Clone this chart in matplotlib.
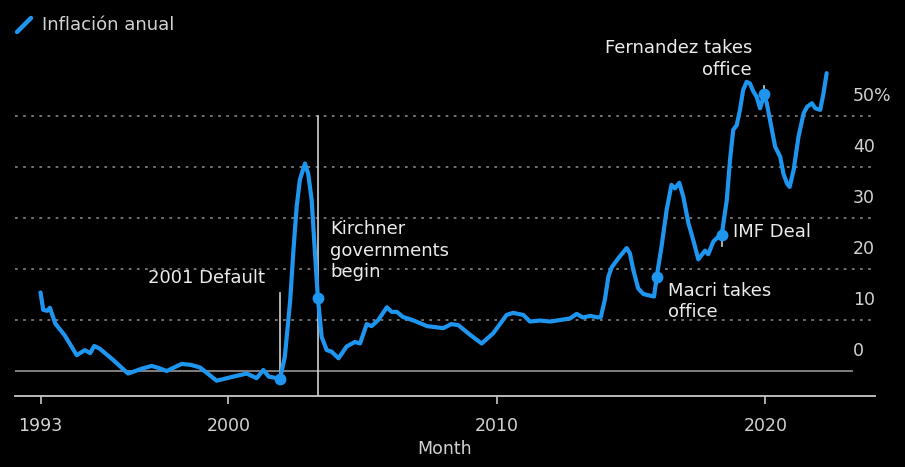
import matplotlib
matplotlib.use("Agg")
import matplotlib.pyplot as plt
from matplotlib.lines import Line2D
import matplotlib.transforms as mtransforms

# ---- data (decimal year, annual inflation %) ----
dates = [1993.0, 1993.1, 1993.25, 1993.35, 1993.55, 1993.9, 1994.35, 1994.65, 1994.85, 1995.0,
         1995.2, 1995.7, 1996.26, 1996.8, 1997.14, 1997.4, 1997.7, 1998.26, 1998.6, 1998.94,
         1999.56, 2000.18, 2000.68, 2001.05, 2001.3, 2001.5, 2001.92, 2002.1, 2002.3, 2002.42,
         2002.54, 2002.66, 2002.85, 2002.97, 2003.1, 2003.2, 2003.33, 2003.47, 2003.66, 2003.84,
         2004.1, 2004.4, 2004.71, 2004.9, 2005.15, 2005.33, 2005.58, 2005.9, 2006.08, 2006.27,
         2006.5, 2006.9, 2007.4, 2008.0, 2008.3, 2008.56, 2009.0, 2009.43, 2009.86, 2010.36,
         2010.6, 2010.98, 2011.23, 2011.6, 2011.98, 2012.35, 2012.72, 2012.97, 2013.2, 2013.47,
         2013.77, 2013.87, 2014.02, 2014.15, 2014.27, 2014.52, 2014.83, 2014.95, 2015.08, 2015.26,
         2015.45, 2015.76, 2015.85, 2015.95, 2016.13, 2016.32, 2016.5, 2016.63, 2016.79, 2016.94,
         2017.13, 2017.31, 2017.5, 2017.75, 2017.87, 2018.06, 2018.24, 2018.37, 2018.56, 2018.68,
         2018.8, 2018.93, 2019.05, 2019.17, 2019.3, 2019.42, 2019.55, 2019.67, 2019.8, 2019.96,
         2020.05, 2020.17, 2020.36, 2020.55, 2020.67, 2020.8, 2020.9, 2021.05, 2021.23, 2021.42,
         2021.55, 2021.73, 2021.86, 2022.04, 2022.16, 2022.28]
inflation = [15.4, 12.0, 11.8, 12.4, 9.3, 7.0, 3.1, 4.1, 3.5, 4.9,
             4.4, 2.2, -0.5, 0.5, 1.0, 0.6, 0.0, 1.4, 1.2, 0.7,
             -1.9, -1.1, -0.5, -1.4, 0.2, -1.1, -1.5, 2.8, 13.9, 23.7,
             32.2, 37.5, 40.7, 38.7, 33.5, 25.0, 14.4, 6.7, 4.1, 3.8,
             2.5, 4.8, 5.7, 5.4, 9.2, 8.8, 10.0, 12.5, 11.6, 11.6,
             10.6, 9.9, 8.8, 8.4, 9.2, 9.0, 7.1, 5.4, 7.4, 11.0,
             11.4, 11.0, 9.7, 9.9, 9.7, 10.0, 10.3, 11.2, 10.5, 10.8,
             10.5, 10.6, 14.0, 18.5, 20.3, 22.1, 24.1, 23.1, 19.8, 16.2,
             15.1, 14.7, 14.6, 18.5, 24.4, 31.6, 36.5, 35.8, 36.9, 34.2,
             29.0, 25.7, 21.9, 23.6, 22.9, 25.4, 26.3, 26.7, 33.5, 41.4,
             47.3, 48.2, 51.2, 55.1, 56.7, 56.4, 54.8, 53.8, 51.5, 54.4,
             52.5, 49.2, 44.0, 42.0, 38.7, 36.8, 36.1, 39.4, 45.9, 50.5,
             51.8, 52.5, 51.5, 51.2, 54.4, 58.4]

event_dates = [2001.92, 2003.33, 2015.95, 2018.37, 2019.96]
event_values = [-1.5, 14.4, 18.5, 26.7, 54.4]
event_labels = ["2001 Default", "Kirchner\ngovernments\nbegin", "Macri takes\noffice",
                "IMF Deal", "Fernandez takes\noffice"]

xticks = [1993, 2000, 2010, 2020]
xtick_labels = ["1993", "2000", "2010", "2020"]
yticks = [0, 10, 20, 30, 40, 50]
ytick_labels = ["0", "10", "20", "30", "40", "50%"]

# ---- style ----
BG = "black"
BLUE = "#1e96f0"
TXT = "#ececec"
TICK = "#d2d2d2"
GRID = "#7a7a7a"
plt.rcParams['font.family'] = ['DejaVu Sans']

W, H = 905, 467
fig = plt.figure(figsize=(W / 100, H / 100), dpi=100, facecolor=BG)
ax = fig.add_axes([15 / W, (H - 396) / H, 860 / W, 331 / H], facecolor=BG)
ax.set_xlim(1992.05, 2024.08)
ax.set_ylim(-4.9, 60.0)

for s in ["top", "right", "left"]:
    ax.spines[s].set_visible(False)
ax.spines["bottom"].set_color("#c8c8c8")
ax.spines["bottom"].set_linewidth(1.3)
ax.set_yticks([])
ax.set_xticks(xticks)
ax.set_xticklabels(xtick_labels)
ax.tick_params(axis="x", colors="#c8c8c8", length=6, width=1.2, pad=9,
               labelcolor=TICK, labelsize=12.5)
ax.set_xlabel("Month", color=TICK, fontsize=12.5, labelpad=4)

# grid
for v in yticks[1:]:
    ax.axhline(v, color=GRID, lw=1.3, ls=(0, (1.5, 3)), zorder=1)
ax.axhline(0, xmin=0, xmax=(852 - 15) / 860, color="#8a8a8a", lw=1.3, zorder=1)

# y labels (inside, above gridlines)
lab_tr = mtransforms.offset_copy(ax.transData, fig=fig, x=0, y=20, units="dots")
for v, l in zip(yticks, ytick_labels):
    ax.text(2023.26, v, l, transform=lab_tr, color=TICK, fontsize=12.5,
            ha="left", va="center")

# event lines
ax.plot([event_dates[0]] * 2, [event_values[0], 15.3], color="#cfcfcf", lw=1.2, zorder=2)
ax.plot([event_dates[1]] * 2, [-4.9, 50], color="#cfcfcf", lw=1.2, zorder=2)
ax.plot([event_dates[2]] * 2, [event_values[2], event_values[2] - 1.5], color="#cfcfcf", lw=1.2, zorder=2)
ax.plot([event_dates[3]] * 2, [event_values[3], event_values[3] - 2.2], color="#cfcfcf", lw=1.2, zorder=2)
ax.plot([event_dates[4]] * 2, [event_values[4], event_values[4] + 1.5], color="#cfcfcf", lw=1.2, zorder=2)

# series
ax.plot(dates, inflation, color=BLUE, lw=3.0, solid_joinstyle="round",
        solid_capstyle="round", zorder=3)
ax.plot(event_dates, event_values, ls="none", marker="o", ms=7.5, color=BLUE, zorder=4)

# annotations
fs = 13
ax.text(2001.36, 18.2, event_labels[0], color=TXT, fontsize=fs, ha="right", va="center")
ax.text(2003.78, 29.6, event_labels[1], color=TXT, fontsize=fs, ha="left", va="top",
        linespacing=1.25)
ax.text(2016.37, 17.5, event_labels[2], color=TXT, fontsize=fs, ha="left", va="top",
        linespacing=1.25)
ax.text(2018.79, 27.3, event_labels[3], color=TXT, fontsize=fs, ha="left", va="center")
ax.text(2019.5, 65.0, event_labels[4], color=TXT, fontsize=fs, ha="right", va="top",
        linespacing=1.25, clip_on=False)

# legend
fig.add_artist(Line2D([17 / W, 31 / W], [1 - 32 / H, 1 - 18 / H], color=BLUE, lw=3.2,
                      solid_capstyle="round", transform=fig.transFigure))
fig.text(42 / W, 1 - 25 / H, "Inflación anual", color=TICK, fontsize=13,
         ha="left", va="center")

fig.savefig("out.png", dpi=100, facecolor=BG)
